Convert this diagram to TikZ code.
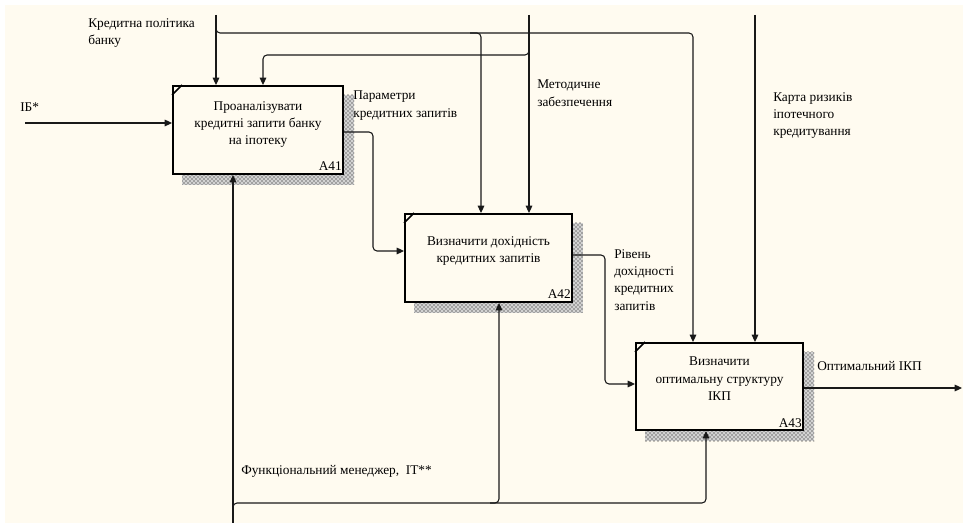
\documentclass[tikz,border=0pt]{standalone}
\usepackage{fontspec}
\setmainfont{Liberation Serif}
\usetikzlibrary{arrows.meta,patterns}
\definecolor{bgc}{HTML}{FFFBF0}
\pgfdeclarelayer{back}
\pgfdeclarelayer{shade}
\pgfsetlayers{back,shade,main}
\tikzset{
  fbox/.style={draw=black, line width=1.5pt, fill=bgc, inner sep=0pt},
  txt/.style={align=center, inner sep=0pt, font=\fontsize{10}{13}\selectfont},
  ltxt/.style={align=left, inner sep=0pt, anchor=north west, font=\fontsize{10}{13}\selectfont},
  con/.style={draw=black!90, line width=0.8pt, rounded corners=3pt},
  arr/.style={con, -{Triangle[length=5.5pt,width=5pt]}},
  shd/.style={pattern=crosshatch dots, pattern color=black},
}
\begin{document}
\begin{tikzpicture}[x=0.75pt,y=-0.75pt]
\useasboundingbox (0,0) rectangle (963,523);
\begin{pgfonlayer}{back}
  \fill[white] (0,0) rectangle (963,523);
  \fill[bgc] (5,5) rectangle (963,523);
\end{pgfonlayer}

% boxes
\node[fbox, minimum width=127.5pt, minimum height=66pt] (A41) at (258,130) {};
\node[fbox, minimum width=125.25pt, minimum height=66pt] (A42) at (488.5,258) {};
\node[fbox, minimum width=125.25pt, minimum height=65.25pt] (A43) at (719.5,386.5) {};

\begin{pgfonlayer}{shade}
  \fill[gray!35] ([shift={(10,10)}]A41.south west) rectangle ([shift={(10,10)}]A41.north east);
  \fill[gray!35] ([shift={(10,10)}]A42.south west) rectangle ([shift={(10,10)}]A42.north east);
  \fill[gray!35] ([shift={(10,10)}]A43.south west) rectangle ([shift={(10,10)}]A43.north east);
  \fill[shd] ([shift={(10,10)}]A41.south west) rectangle ([shift={(10,10)}]A41.north east);
  \fill[shd] ([shift={(10,10)}]A42.south west) rectangle ([shift={(10,10)}]A42.north east);
  \fill[shd] ([shift={(10,10)}]A43.south west) rectangle ([shift={(10,10)}]A43.north east);
\end{pgfonlayer}

\foreach \b in {A41,A42,A43}{
  \draw[line width=1.2pt] ([shift={(0,10)}]\b.north west) -- ([shift={(10,0)}]\b.north west);
}

% box texts
\node[txt, anchor=north] (t41) at (258,101) {Проаналізувати\\кредитні запити банку\\на іпотеку};
\node[txt, anchor=north] (t42) at (488.5,236) {Визначити дохідність\\кредитних запитів};
\node[txt, anchor=north] (t43) at (719.5,357) {Визначити\\оптимальну структуру\\ІКП};
\node[txt, anchor=base east] (n41) at ([shift={(-2,-4)}]A41.south east) {A41};
\node[txt, anchor=base east] (n42) at ([shift={(-2,-4)}]A42.south east) {A42};
\node[txt, anchor=base east] (n43) at ([shift={(-2,-4)}]A43.south east) {A43};

% labels
\node[ltxt] (l1) at (88,18) {Кредитна політика\\банку};
\node[ltxt] (l2) at (20,103) {ІБ*};
\node[ltxt] (l3) at (353,91) {Параметри\\кредитних запитів};
\node[ltxt] (l4) at (537,80) {Методичне\\забезпечення};
\node[ltxt] (l5) at (773,92) {Карта ризиків\\іпотечного\\кредитування};
\node[ltxt] (l6) at (614,249) {Рівень\\дохідності\\кредитних\\запитів};
\node[ltxt] (l7) at (817,361) {Оптимальний ІКП};
\node[ltxt] (l8) at (241,465) {Функціональний менеджер,\ \ IT**};

% coordinates
\coordinate (c1) at (216,15);
\coordinate (c1a) at (216,26);
\coordinate (c1b) at (216,33);
\coordinate (j1) at (481,33);
\coordinate (j1l) at (470,33);
\coordinate (j2) at (693,33);
\coordinate (c2) at (529,15);
\coordinate (c2a) at (529,47);
\coordinate (c2b) at (529,55);
\coordinate (c2c) at (263,55);
\coordinate (c3) at (755,15);
\coordinate (in) at (25,123);
\coordinate (o1) at (373,132);
\coordinate (o1b) at (373,251);
\coordinate (o2) at (605,255);
\coordinate (o2b) at (605,384);
\coordinate (o3) at (962,388);
\coordinate (m) at (233,523);
\coordinate (mbs) at (233,512);
\coordinate (mb) at (233,503);
\coordinate (mr) at (706,503);
\coordinate (m2l) at (490,503);
\coordinate (m2) at (499,503);

% controls
\draw[arr] (c1) -- (c1 |- A41.north);
\draw[arr] (c1a) -- (c1b) -- (j1) -- (j1 |- A42.north);
\draw[arr] (j1l) -- (j2) -- (j2 |- A43.north);
\draw[arr] (c2) -- (c2 |- A42.north);
\draw[arr] (c2a) -- (c2b) -- (c2c) -- (c2c |- A41.north);
\draw[arr] (c3) -- (c3 |- A43.north);
% input
\draw[arr] (in) -- (in -| A41.west);
% outputs
\draw[arr] (o1 -| A41.east) -- (o1) -- (o1b) -- (o1b -| A42.west);
\draw[arr] (o2 -| A42.east) -- (o2) -- (o2b) -- (o2b -| A43.west);
\draw[arr] (o3 -| A43.east) -- (o3);
% mechanisms
\draw[arr] (m) -- (m |- A41.south);
\draw[arr] (mbs) -- (mb) -- (mr) -- (mr |- A43.south);
\draw[arr] (m2l) -- (m2) -- (m2 |- A42.south);
\end{tikzpicture}
\end{document}
